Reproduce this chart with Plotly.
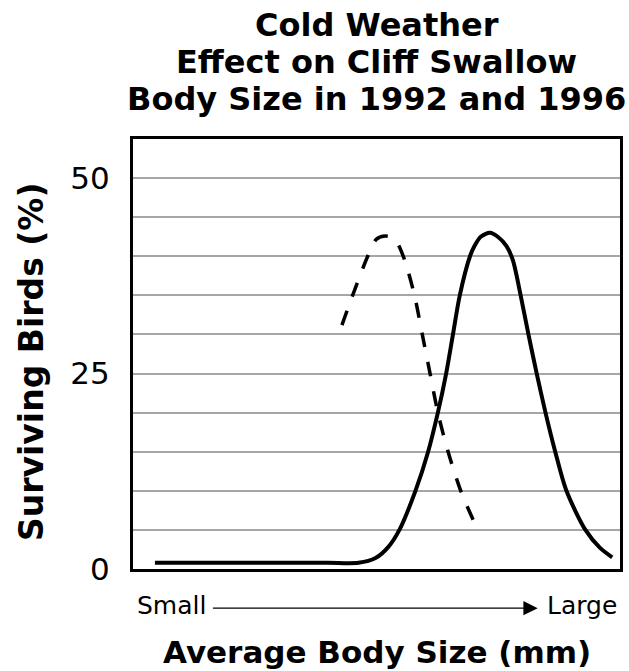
import plotly.graph_objects as go

# body size on an arbitrary 0-100 scale (Small -> Large)
size_1996 = [4.5, 25.0, 40.0, 46.3, 49.8, 52.4, 54.7, 58.0, 60.6, 62.6, 64.3, 65.7,
             67.1, 69.2, 70.2, 71.4, 73.3, 74.9, 76.7, 78.0, 79.6, 81.2, 82.9,
             84.7, 86.7, 89.0, 92.9, 95.9, 98.4]
surv_1996 = [0.8, 0.8, 0.8, 0.8, 1.4, 2.8, 5.0, 10.0, 15.0, 20.0, 25.0, 30.0,
             35.0, 40.0, 41.4, 42.5, 43.0, 42.5, 41.3, 39.5, 35.0, 30.0, 25.0,
             20.0, 15.0, 10.0, 5.0, 2.7, 1.5]

size_1992 = [42.9, 45.1, 48.2, 50.0, 51.8, 53.7, 55.5, 57.8, 59.4, 61.0, 62.6,
             64.7, 67.3, 69.4, 70.8]
surv_1992 = [31.2, 35.0, 40.0, 42.2, 42.6, 42.2, 40.0, 35.0, 30.0, 25.0, 20.0,
             15.0, 10.0, 6.9, 5.0]

y_ticks = list(range(0, 56, 5))
y_labels = ["0", "", "", "", "", "25", "", "", "", "", "50", ""]

title_lines = ["Cold Weather", "Effect on Cliff Swallow", "Body Size in 1992 and 1996"]

FONT = "DejaVu Sans"

fig = go.Figure()

fig.add_trace(go.Scatter(
    x=size_1992, y=surv_1992, mode="lines",
    line=dict(color="black", width=3.5, dash="15px,15px", shape="spline", smoothing=0.8),
    showlegend=False, hoverinfo="skip",
))
fig.add_trace(go.Scatter(
    x=size_1996, y=surv_1996, mode="lines",
    line=dict(color="black", width=4, shape="spline", smoothing=0.8),
    showlegend=False, hoverinfo="skip",
))

# title, one annotation per line
for line, ypos in zip(title_lines, [1.265, 1.180, 1.093]):
    fig.add_annotation(x=0.5, y=ypos, xref="paper", yref="paper",
                       text=f"<b>{line}</b>", showarrow=False,
                       xanchor="center", yanchor="middle",
                       font=dict(family=FONT, size=32, color="black"))

# Small ---> Large
fig.add_annotation(
    x=0.831, y=-0.091, xref="x domain", yref="y domain",
    ax=0.161, ay=-0.091, axref="x domain", ayref="y domain",
    showarrow=True, arrowhead=2, arrowsize=2.2, arrowwidth=1.3, arrowcolor="black", text="",
)
fig.add_annotation(x=0.004, y=-0.084, xref="paper", yref="paper", text="Small",
                   showarrow=False, xanchor="left", yanchor="middle",
                   font=dict(family=FONT, size=25, color="black"))
fig.add_annotation(x=0.998, y=-0.084, xref="paper", yref="paper", text="Large",
                   showarrow=False, xanchor="right", yanchor="middle",
                   font=dict(family=FONT, size=25, color="black"))

# axis titles
fig.add_annotation(x=0.5, y=-0.192, xref="paper", yref="paper",
                   text="<b>Average Body Size (mm)</b>", showarrow=False,
                   xanchor="center", yanchor="middle",
                   font=dict(family=FONT, size=31, color="black"))
fig.add_annotation(x=-0.208, y=0.483, xref="paper", yref="paper",
                   text="<b>Surviving Birds (%)</b>", showarrow=False, textangle=-90,
                   xanchor="center", yanchor="middle",
                   font=dict(family=FONT, size=33, color="black"))

fig.update_layout(
    width=629, height=671,
    paper_bgcolor="white", plot_bgcolor="white",
    margin=dict(l=133, r=6, t=139, b=102),
    xaxis=dict(
        range=[0, 100], showgrid=False, zeroline=False,
        showticklabels=False, ticks="",
        showline=True, linecolor="black", linewidth=3, mirror=True,
    ),
    yaxis=dict(
        range=[0, 55], tickmode="array", tickvals=y_ticks, ticktext=y_labels,
        showgrid=True, gridcolor="#a6a6a6", gridwidth=2, zeroline=False,
        ticks="", ticklabelstandoff=14,
        tickfont=dict(family=FONT, size=31, color="black"),
        showline=True, linecolor="black", linewidth=3, mirror=True,
    ),
)

fig.write_html("out.html", config={"displayModeBar": False},
               post_script="document.body.style.margin='0px';")
